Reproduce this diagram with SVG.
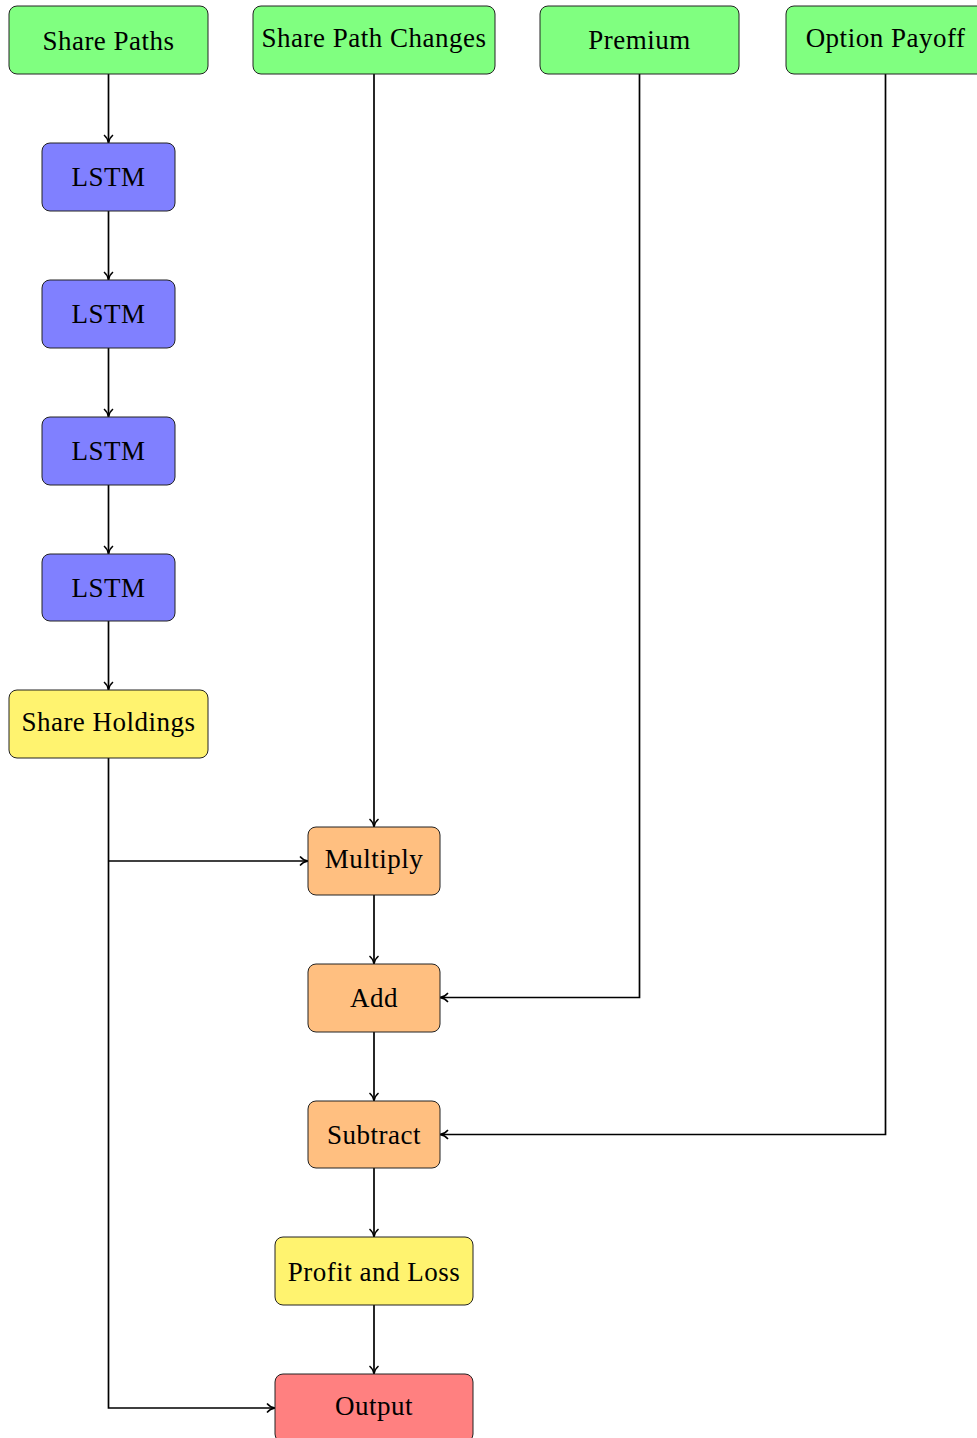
<svg xmlns="http://www.w3.org/2000/svg" width="977" height="1438" viewBox="0 0 977 1438">
<style>
.n rect{stroke:#222;stroke-width:1}
.g rect{fill:#80FF80}.b rect{fill:#8080FF}.y rect{fill:#FFF36F}.o rect{fill:#FFBF80}.r rect{fill:#FF8080}
text{font-family:"Liberation Serif","DejaVu Serif",serif;font-size:27px;letter-spacing:0.5px;fill:#000;text-anchor:middle;dominant-baseline:central}
#edges path{fill:none;stroke:#000;stroke-width:1.7}
</style>
<defs>
<marker id="a" viewBox="0 0 12 12" refX="11" refY="6" markerWidth="12" markerHeight="12" markerUnits="userSpaceOnUse" orient="auto">
<path d="M3,1.5 Q6,5.2 11,6 Q6,6.8 3,10.5" fill="none" stroke="#000" stroke-width="1.5"/>
</marker>
</defs>
<g id="edges">
<path d="M108.5,74 V143" marker-end="url(#a)"/>
<path d="M108.5,211 V280" marker-end="url(#a)"/>
<path d="M108.5,348 V417" marker-end="url(#a)"/>
<path d="M108.5,485 V554" marker-end="url(#a)"/>
<path d="M108.5,621 V690" marker-end="url(#a)"/>
<path d="M374,74 V827" marker-end="url(#a)"/>
<path d="M108.5,758 V1408 H275" marker-end="url(#a)"/>
<path d="M108.5,861 H308" marker-end="url(#a)"/>
<path d="M374,895 V964" marker-end="url(#a)"/>
<path d="M639.5,74 V997.5 H440" marker-end="url(#a)"/>
<path d="M374,1032 V1101" marker-end="url(#a)"/>
<path d="M885.5,74 V1134.5 H440" marker-end="url(#a)"/>
<path d="M374,1168 V1237" marker-end="url(#a)"/>
<path d="M374,1305 V1374" marker-end="url(#a)"/>
</g>
<g id="sharepaths" class="n g"><rect x="9" y="6" width="199" height="68" rx="8"/><text x="108.5" y="41">Share Paths</text></g>
<g id="sharepathchanges" class="n g"><rect x="253" y="6" width="242" height="68" rx="8"/><text x="374" y="38">Share Path Changes</text></g>
<g id="premium" class="n g"><rect x="540" y="6" width="199" height="68" rx="8"/><text x="639.5" y="40">Premium</text></g>
<g id="optionpayoff" class="n g"><rect x="786" y="6" width="199" height="68" rx="8"/><text x="885.5" y="38">Option Payoff</text></g>
<g id="lstm1" class="n b"><rect x="42" y="143" width="133" height="68" rx="8"/><text x="108.5" y="177">LSTM</text></g>
<g id="lstm2" class="n b"><rect x="42" y="280" width="133" height="68" rx="8"/><text x="108.5" y="314">LSTM</text></g>
<g id="lstm3" class="n b"><rect x="42" y="417" width="133" height="68" rx="8"/><text x="108.5" y="451">LSTM</text></g>
<g id="lstm4" class="n b"><rect x="42" y="554" width="133" height="67" rx="8"/><text x="108.5" y="588">LSTM</text></g>
<g id="shareholdings" class="n y"><rect x="9" y="690" width="199" height="68" rx="8"/><text x="108.5" y="722">Share Holdings</text></g>
<g id="multiply" class="n o"><rect x="308" y="827" width="132" height="68" rx="8"/><text x="374" y="859">Multiply</text></g>
<g id="add" class="n o"><rect x="308" y="964" width="132" height="68" rx="8"/><text x="374" y="998">Add</text></g>
<g id="subtract" class="n o"><rect x="308" y="1101" width="132" height="67" rx="8"/><text x="374" y="1135">Subtract</text></g>
<g id="profitloss" class="n y"><rect x="275" y="1237" width="198" height="68" rx="8"/><text x="374" y="1272">Profit and Loss</text></g>
<g id="output" class="n r"><rect x="275" y="1374" width="198" height="68" rx="8"/><text x="374" y="1406">Output</text></g>
</svg>
